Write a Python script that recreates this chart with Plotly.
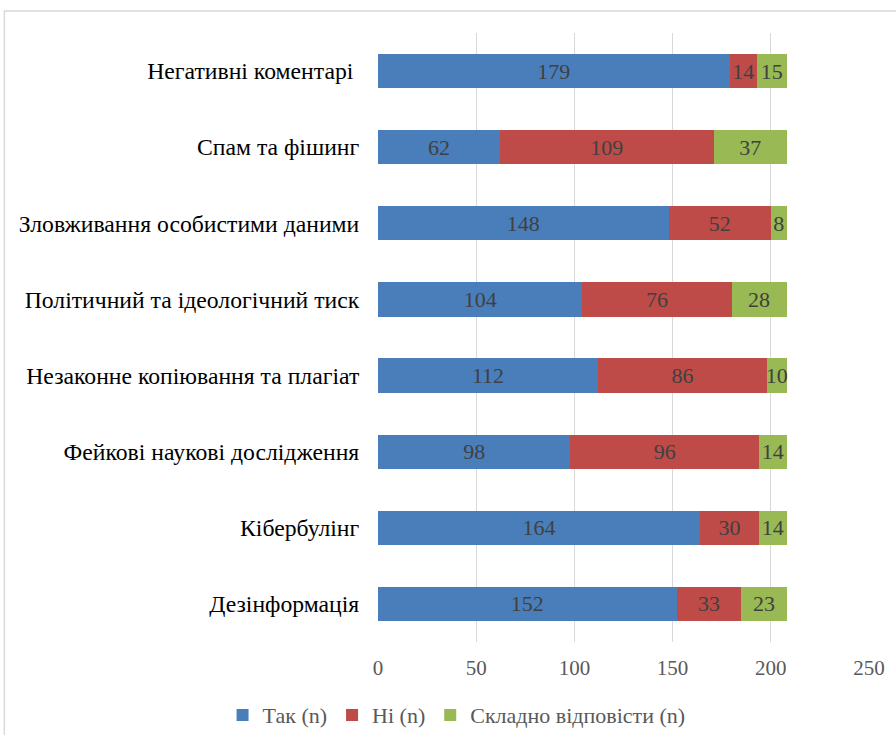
import plotly.graph_objects as go

categories = [
    "Негативні коментарі\u00a0",
    "Спам та фішинг",
    "Зловживання особистими даними",
    "Політичний та ідеологічний тиск",
    "Незаконне копіювання та плагіат",
    "Фейкові наукові дослідження",
    "Кібербулінг",
    "Дезінформація",
]
yes_vals = [179, 62, 148, 104, 112, 98, 164, 152]
no_vals = [14, 109, 52, 76, 86, 96, 30, 33]
hard_vals = [15, 37, 8, 28, 10, 14, 14, 23]
series_names = ["Так (n)", "Ні (n)", "Складно відповісти (n)"]
colors = ["#4A7EBB", "#BE4B48", "#98B954"]
x_ticks = [0, 50, 100, 150, 200, 250]

FONT = "Liberation Serif"

fig = go.Figure()
for name, vals, col in zip(series_names, [yes_vals, no_vals, hard_vals], colors):
    fig.add_trace(go.Bar(
        y=categories, x=vals, name=name, orientation="h",
        marker=dict(color=col, line=dict(width=0)),
        text=[str(v) for v in vals], textposition="inside",
        insidetextanchor="middle", constraintext="none",
        textfont=dict(family=FONT, size=22, color="#404040"),
        hoverinfo="skip",
    ))

fig.update_layout(
    barmode="stack",
    bargap=0.55,
    width=896, height=735,
    margin=dict(l=378, r=27, t=33, b=93, autoexpand=False),
    paper_bgcolor="white", plot_bgcolor="white",
    font=dict(family=FONT, size=19, color="#000000"),
    showlegend=True,
    legend=dict(orientation="h", x=0.16, xanchor="center", y=-0.12, yanchor="middle",
                font=dict(family=FONT, size=22, color="#595959"),
                itemwidth=30, traceorder="normal"),
    xaxis=dict(range=[0, 250], tickvals=x_ticks, showgrid=True, gridcolor="#D9D9D9",
               gridwidth=1, zeroline=False, showline=False, automargin=False,
               tickfont=dict(family=FONT, size=21, color="#595959"),
               ticks="outside", ticklen=7, tickcolor="rgba(0,0,0,0)"),
    yaxis=dict(autorange="reversed", showgrid=False, zeroline=False, showline=False,
               automargin=False,
               tickfont=dict(family=FONT, size=23.7, color="#000000"),
               ticks="outside", ticklen=13, tickcolor="rgba(0,0,0,0)"),
    shapes=[dict(type="rect", xref="paper", yref="paper",
                 x0=-0.761, x1=1.2, y0=-0.3, y1=1.036,
                 line=dict(color="#D9D9D9", width=1.5), fillcolor="rgba(0,0,0,0)",
                 layer="below")],
)

fig.write_html("out.html", config={"displayModeBar": False},
               post_script="document.body.style.margin='0';")
